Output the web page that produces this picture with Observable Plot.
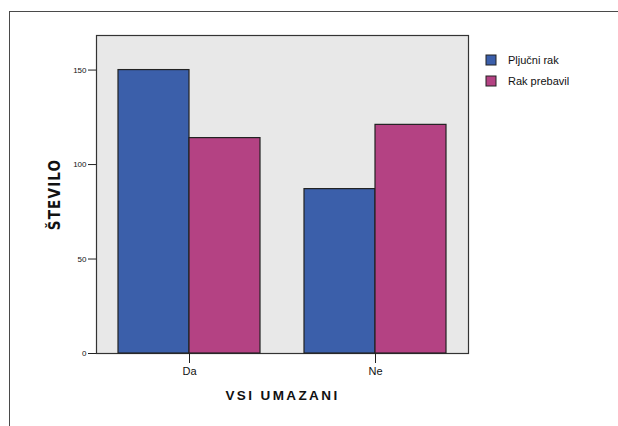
<!DOCTYPE html>
<html><head><meta charset="utf-8">
<script src="https://cdn.jsdelivr.net/npm/d3@7"></script>
<script src="https://cdn.jsdelivr.net/npm/@observablehq/plot@0.6"></script>
<style>
body{margin:0;background:#fff;font-family:"Liberation Sans",Arial,sans-serif;}
#wrap{position:relative;width:618px;height:426px;overflow:hidden}
#chart svg{position:absolute;left:9px;top:11px;border-left:1px solid #4a4a4a;border-top:1px solid #4a4a4a}
#chart g[aria-label="y-axis label"] text{font-family:"Liberation Sans Narrow","DejaVu Sans Condensed",sans-serif;font-weight:bold;font-size:15px;letter-spacing:1.2px;fill:#111}
#chart g[aria-label="fx-axis label"] text{font-weight:bold;font-size:13.5px;letter-spacing:2.4px;fill:#111}
#legend{position:absolute;left:486px;top:50px}
#legend svg{overflow:visible;margin-right:12px !important}
#legend rect{stroke:#222;stroke-width:1px}
</style></head><body>
<div id="wrap"><div id="chart"></div><div id="legend"></div></div>
<script>
const categories = ["Da", "Ne"];
const series = ["Pljučni rak", "Rak prebavil"];
const pljucniRak = [150, 87];
const rakPrebavil = [114, 121];
const yTicks = [0, 50, 100, 150];
const yMax = 168.3;
const colors = ["#3b5faa", "#b44283"];

const data = categories.flatMap((c, i) => [
  {cat: c, s: series[0], v: pljucniRak[i]},
  {cat: c, s: series[1], v: rakPrebavil[i]}
]);

const plot = Plot.plot({
  width: 608, height: 414,
  marginLeft: 86, marginRight: 150, marginTop: 23, marginBottom: 73,
  style: {fontFamily: "Liberation Sans, Arial, sans-serif", background: "transparent", color: "#111"},
  fx: {domain: categories, padding: 0, axis: null},
  x: {domain: series, paddingInner: 0, paddingOuter: 0.3, axis: null},
  y: {domain: [0, yMax], axis: null},
  color: {domain: series, range: colors},
  marks: [
    Plot.frame({facet: "super", fill: "#e8e8e8", stroke: "#333", strokeWidth: 1.2}),
    Plot.barY(data, {fx: "cat", x: "s", y: "v", fill: "s", stroke: "#222", strokeWidth: 1.2}),
    Plot.axisY({ticks: yTicks, tickSize: 8, tickPadding: 2, fontSize: 8, stroke: "#222",
      label: "ŠTEVILO", labelAnchor: "center", labelArrow: "none", labelOffset: 47}),
    Plot.axisFx({anchor: "bottom", tickSize: 10, tickPadding: 4, fontSize: 11, stroke: "#222",
      label: "VSI UMAZANI", labelAnchor: "center", labelArrow: "none", labelOffset: 46})
  ]
});
document.getElementById("chart").appendChild(plot);

const legend = Plot.legend({
  color: {domain: series, range: colors},
  legend: "swatches", columns: 1, swatchSize: 10,
  style: {fontFamily: "Liberation Sans, Arial, sans-serif", fontSize: "11px", color: "#111", lineHeight: "20px"}
});
document.getElementById("legend").appendChild(legend);
</script>
</body></html>
